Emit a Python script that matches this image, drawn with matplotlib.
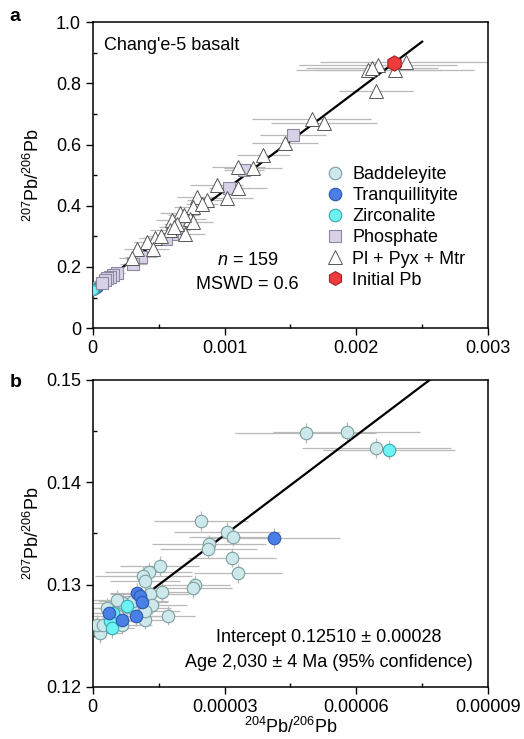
import matplotlib
matplotlib.use("Agg")
import matplotlib.pyplot as plt
import numpy as np
from matplotlib.ticker import MultipleLocator

plt.rcParams["font.family"] = ["Liberation Sans", "DejaVu Sans"]
plt.rcParams["mathtext.fontset"] = "custom"
plt.rcParams["mathtext.rm"] = "Liberation Sans"
plt.rcParams["mathtext.it"] = "Liberation Sans:italic"

# isochron fit
intercept = 0.1251
slope = 324.5

# panel a: Pl + Pyx + Mtr (x in units of 1e-3)
tri_x = [2.091, 2.167, 2.294, 2.377, 2.150, 1.662, 1.755, 2.12,
         1.459, 1.295, 1.219, 1.105, 0.941, 1.105, 1.017, 0.865, 0.789, 0.764,
         0.662, 0.738, 0.764, 0.599, 0.70, 0.473, 0.41, 0.46, 0.334, 0.296,
         0.587, 0.83, 0.69, 0.64, 0.52, 0.62]
tri_y = [0.843, 0.859, 0.845, 0.870, 0.775, 0.682, 0.671, 0.850,
         0.604, 0.565, 0.522, 0.527, 0.467, 0.457, 0.424, 0.418, 0.429, 0.396,
         0.375, 0.358, 0.347, 0.353, 0.309, 0.293, 0.282, 0.260, 0.260, 0.228,
         0.320, 0.405, 0.370, 0.340, 0.300, 0.330]
tri_xerr = [0.55, 0.6, 0.6, 0.65, 0.28, 0.45, 0.4, 0.5,
            0.25, 0.2, 0.22, 0.2, 0.2, 0.22, 0.2, 0.15, 0.15, 0.15,
            0.15, 0.12, 0.15, 0.12, 0.15, 0.12, 0.1, 0.12, 0.1, 0.1,
            0.15, 0.12, 0.12, 0.1, 0.1, 0.12]

# panel a: phosphate (x in units of 1e-3)
pho_x = [1.522, 1.148, 1.037, 0.662, 0.599, 0.556, 0.364, 0.308,
         0.182, 0.150, 0.131, 0.110, 0.093, 0.068]
pho_y = [0.631, 0.516, 0.458, 0.328, 0.306, 0.292, 0.233, 0.211,
         0.179, 0.175, 0.168, 0.165, 0.157, 0.146]
pho_xerr = [0.25, 0.15, 0.15, 0.1, 0.1, 0.08, 0.12, 0.1,
            0.06, 0.05, 0.05, 0.05, 0.05, 0.05]

# initial Pb (x in units of 1e-3)
ini_x = [2.286]
ini_y = [0.865]

# baddeleyite (x in units of 1e-5)
bad_x = [4.85, 5.78, 6.46, 2.46, 3.06, 3.19, 2.65, 2.63, 3.18, 3.31, 2.33, 2.28,
         1.53, 1.27, 1.15, 1.19, 1.57, 1.30, 1.34, 1.72, 0.17, 0.09, 0.66, 0.70,
         0.89, 1.19, 1.19, 0.55, 0.32, 0.24, 0.58, 0.92]
bad_y = [0.14480, 0.14493, 0.14333, 0.13621, 0.13513, 0.13468, 0.13392, 0.13350,
         0.13262, 0.13108, 0.12997, 0.12967, 0.13180, 0.13120, 0.13088, 0.13032,
         0.12925, 0.12912, 0.12804, 0.12696, 0.12526, 0.12608, 0.12608, 0.12820,
         0.12771, 0.12657, 0.12738, 0.12853, 0.12771, 0.12608, 0.12689, 0.12836]
bad_xerr = [1.6, 1.67, 1.7, 1.07, 1.2, 1.0, 1.3, 1.1, 1.0, 1.0, 0.8, 0.9,
            0.9, 1.0, 1.1, 0.8, 0.7, 0.9, 0.8, 0.6, 0.5, 0.6, 0.7, 0.8,
            0.9, 0.6, 0.8, 0.7, 0.5, 0.5, 0.6, 0.8]

# tranquillityite (x in units of 1e-5)
tra_x = [4.13, 1.00, 1.08, 1.12, 0.98, 0.66, 0.37]
tra_y = [0.13454, 0.12919, 0.12885, 0.12826, 0.12689, 0.12657, 0.12722]
tra_xerr = [1.5, 0.6, 0.6, 0.6, 0.6, 0.5, 0.5]

# zirconalite (x in units of 1e-5)
zir_x = [6.75, 0.79, 0.47, 0.39, 0.43]
zir_y = [0.14317, 0.12787, 0.12722, 0.12640, 0.12575]
zir_xerr = [1.5, 0.6, 0.5, 0.5, 0.5]

BAD = dict(mfc="#cde8ea", mec="#7d9ea0")
TRA = dict(mfc="#4a80e6", mec="#2d58b0")
ZIR = dict(mfc="#6ef3f5", mec="#3aa8ad")
PHO = dict(mfc="#d9d1e6", mec="#8d879f")
TRI = dict(mfc="white", mec="#555555")
INI = dict(mfc="#ef3b3b", mec="#a52222")
ERR = dict(fmt="none", ecolor="#b9b9b9", elinewidth=0.9, capsize=0, zorder=1)


def style_axes(ax):
    for s in ax.spines.values():
        s.set_linewidth(1.1)
    ax.tick_params(which="major", direction="out", length=5, width=1, labelsize=13)
    ax.tick_params(which="minor", direction="in", length=3, width=1)


fig = plt.figure(figsize=(5.24, 7.39), dpi=100)
ax_a = fig.add_axes([0.177, 0.556, 0.7544, 0.414])
ax_b = fig.add_axes([0.177, 0.0705, 0.7544, 0.4155])

# ---- panel a
bx_a = np.array(bad_x) * 1e-5
tx_a = np.array(tra_x) * 1e-5
zx_a = np.array(zir_x) * 1e-5
trix = np.array(tri_x) * 1e-3
phox = np.array(pho_x) * 1e-3

ax_a.errorbar(trix, tri_y, xerr=np.array(tri_xerr) * 1e-3, **ERR)
ax_a.errorbar(phox, pho_y, xerr=np.array(pho_xerr) * 1e-3, **ERR)
xl = np.array([0.0, 0.0025])
ax_a.plot(xl, intercept + slope * xl, color="black", lw=1.6, zorder=2)
ax_a.plot(bx_a, bad_y, "o", ms=7, mew=0.8, zorder=3, label="Baddeleyite", **BAD)
ax_a.plot(tx_a, tra_y, "o", ms=7, mew=0.8, zorder=3, label="Tranquillityite", **TRA)
ax_a.plot(zx_a, zir_y, "o", ms=7, mew=0.8, zorder=3, label="Zirconalite", **ZIR)
ax_a.plot(phox, pho_y, "s", ms=8.5, mew=0.8, zorder=3, label="Phosphate", **PHO)
ax_a.plot(trix, tri_y, "^", ms=10.5, mew=0.7, zorder=3, label="Pl + Pyx + Mtr", **TRI)
ax_a.plot(np.array(ini_x) * 1e-3, ini_y, "h", ms=11, mew=0.8, zorder=4,
          label="Initial Pb", **INI)

ax_a.set_xlim(0, 0.003)
ax_a.set_ylim(0, 1.0)
ax_a.set_xticks([0, 0.001, 0.002, 0.003])
ax_a.set_xticklabels(["0", "0.001", "0.002", "0.003"])
ax_a.set_yticks([0, 0.2, 0.4, 0.6, 0.8, 1.0])
ax_a.set_yticklabels(["0", "0.2", "0.4", "0.6", "0.8", "1.0"])
ax_a.xaxis.set_minor_locator(MultipleLocator(0.0005))
ax_a.yaxis.set_minor_locator(MultipleLocator(0.1))
style_axes(ax_a)
ax_a.set_ylabel("$^{207}$Pb/$^{206}$Pb", fontsize=13)
ax_a.yaxis.set_label_coords(-0.125, 0.5)

ax_a.text(0.029, 0.925, "Chang'e-5 basalt", transform=ax_a.transAxes,
          fontsize=13, va="center", ha="left")
ax_a.text(0.392, 0.222, "$n$ = 159", transform=ax_a.transAxes,
          fontsize=13, va="center", ha="center")
ax_a.text(0.392, 0.144, "MSWD = 0.6", transform=ax_a.transAxes,
          fontsize=13, va="center", ha="center")

leg = ax_a.legend(loc="upper left", bbox_to_anchor=(0.59, 0.53), frameon=False,
                  fontsize=13, handlelength=1.0, handletextpad=0.45,
                  labelspacing=0.23, borderpad=0, borderaxespad=0)
for h, s in zip(leg.legend_handles, [9, 9, 9, 8.5, 10, 10]):
    h.set_markersize(s)

# ---- panel b
bx = np.array(bad_x) * 1e-5
tx = np.array(tra_x) * 1e-5
zx = np.array(zir_x) * 1e-5
ax_b.errorbar(bx, bad_y, xerr=np.array(bad_xerr) * 1e-5, yerr=0.00095, **ERR)
ax_b.errorbar(tx, tra_y, xerr=np.array(tra_xerr) * 1e-5, yerr=0.00095, **ERR)
ax_b.errorbar(zx, zir_y, xerr=np.array(zir_xerr) * 1e-5, yerr=0.00095, **ERR)
xb = np.array([0.0000092, 0.00009])
ax_b.plot(xb, intercept + slope * xb, color="black", lw=1.6, zorder=2)
ax_b.plot(bx, bad_y, "o", ms=9, mew=0.8, zorder=3, **BAD)
ax_b.plot(zx, zir_y, "o", ms=9, mew=0.8, zorder=3, **ZIR)
ax_b.plot(tx, tra_y, "o", ms=9, mew=0.8, zorder=3, **TRA)

ax_b.set_xlim(0, 0.00009)
ax_b.set_ylim(0.12, 0.15)
ax_b.set_xticks([0, 0.00003, 0.00006, 0.00009])
ax_b.set_xticklabels(["0", "0.00003", "0.00006", "0.00009"])
ax_b.set_yticks([0.12, 0.13, 0.14, 0.15])
ax_b.set_yticklabels(["0.12", "0.13", "0.14", "0.15"])
ax_b.xaxis.set_minor_locator(MultipleLocator(0.000015))
ax_b.yaxis.set_minor_locator(MultipleLocator(0.005))
style_axes(ax_b)
ax_b.set_ylabel("$^{207}$Pb/$^{206}$Pb", fontsize=13)
ax_b.yaxis.set_label_coords(-0.125, 0.5)
ax_b.set_xlabel("$^{204}$Pb/$^{206}$Pb", fontsize=13, labelpad=1)

ax_b.text(0.598, 0.160, "Intercept 0.12510 \u00b1 0.00028", transform=ax_b.transAxes,
          fontsize=13, va="center", ha="center")
ax_b.text(0.598, 0.078, "Age 2,030 \u00b1 4 Ma (95% confidence)", transform=ax_b.transAxes,
          fontsize=13, va="center", ha="center")

fig.text(0.018, 0.978, "a", fontsize=14, fontweight="bold", va="center")
fig.text(0.018, 0.483, "b", fontsize=14, fontweight="bold", va="center")

fig.savefig("out.png", dpi=100)
